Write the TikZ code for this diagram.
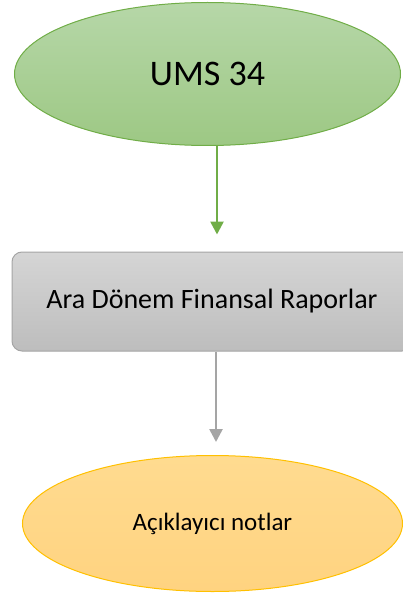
\documentclass[tikz,border=0pt]{standalone}
\usepackage{fontspec}
\setmainfont{Carlito}
\usepackage{tikz}
\usetikzlibrary{shapes.geometric,arrows.meta,calc}
\definecolor{umsgreen}{RGB}{112,173,71}
\definecolor{umsgreentop}{RGB}{182,215,168}
\definecolor{umsgreenbot}{RGB}{157,200,132}
\definecolor{aragray}{RGB}{165,165,165}
\definecolor{aragraytop}{RGB}{213,213,213}
\definecolor{aragraybot}{RGB}{189,189,189}
\definecolor{notorange}{RGB}{255,192,0}
\definecolor{notorangetop}{RGB}{255,219,144}
\definecolor{notorangebot}{RGB}{255,211,128}
\tikzset{
    standard/.style={ellipse, draw=umsgreen, line width=1pt, top color=umsgreentop, bottom color=umsgreenbot, minimum width=386pt, minimum height=143pt, inner sep=0pt, font=\fontsize{36}{40}\selectfont},
    report/.style={rectangle, draw=aragray, line width=1pt, top color=aragraytop, bottom color=aragraybot, rounded corners=10pt, minimum width=400pt, minimum height=99pt, inner sep=0pt, font=\fontsize{28}{32}\selectfont},
    notes/.style={ellipse, draw=notorange, line width=1pt, top color=notorangetop, bottom color=notorangebot, minimum width=380pt, minimum height=136pt, inner sep=0pt, font=\fontsize{25}{30}\selectfont},
    greenline/.style={draw=umsgreen, line width=2.6pt, -{Triangle[length=13pt,width=13pt]}},
    grayline/.style={draw=aragray, line width=2.6pt, -{Triangle[length=13pt,width=13pt]}}
}
\begin{document}
\begin{tikzpicture}[x=1pt,y=-1pt]
    \useasboundingbox (0,0) rectangle (403,596);
    % Standard
    \node [standard] (ums) at (207.5,74) {UMS 34};
    
    % Interim reports and notes below
    \node [report] (ara) at ([shift={(4.5,227.5)}]ums) {Ara Dönem Finansal Raporlar};
    \node [notes] (notlar) at ([shift={(0.5,222)}]ara) {Açıklayıcı notlar};
    
    % Connections
    \path [greenline, shorten >=17pt] ([xshift=9.5pt]ums.south) -- ([xshift=9.5pt]ums.south |- ara.north);
    \path [grayline, shorten >=13pt] ([xshift=4pt]ara.south) -- ([xshift=4pt]ara.south |- notlar.north);
\end{tikzpicture}
\end{document}
